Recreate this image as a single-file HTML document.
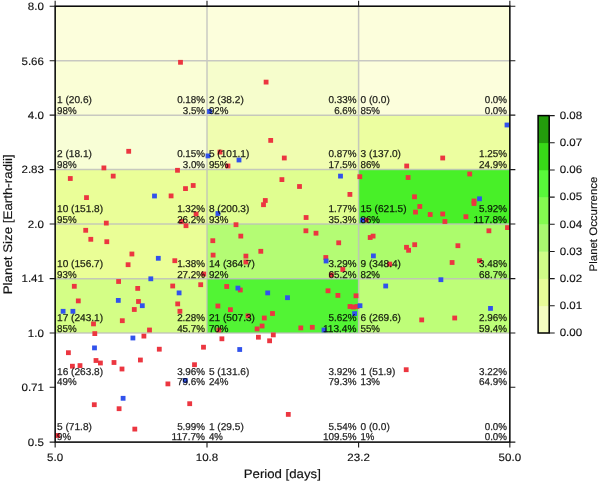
<!DOCTYPE html>
<html><head><meta charset="utf-8"><title>Planet occurrence</title>
<style>html,body{margin:0;padding:0;background:#fff;width:600px;height:482px;overflow:hidden}svg{display:block;font-family:"Liberation Sans",sans-serif;text-rendering:geometricPrecision;will-change:transform}</style></head><body>
<svg width="600" height="482" viewBox="0 0 600 482">
<defs><clipPath id="ax"><rect x="55.15" y="6.20" width="454.70" height="435.90"/></clipPath></defs>
<rect x="55.15" y="6.20" width="151.85" height="54.50" fill="#fcfedc"/>
<rect x="207.00" y="6.20" width="151.60" height="54.50" fill="#fcfedc"/>
<rect x="358.60" y="6.20" width="151.25" height="54.50" fill="#fcfedc"/>
<rect x="55.15" y="60.70" width="151.85" height="54.45" fill="#fafed6"/>
<rect x="207.00" y="60.70" width="151.60" height="54.45" fill="#f6fdcc"/>
<rect x="358.60" y="60.70" width="151.25" height="54.45" fill="#fcfedc"/>
<rect x="55.15" y="115.15" width="151.85" height="54.45" fill="#f8fed6"/>
<rect x="207.00" y="115.15" width="151.60" height="54.45" fill="#f0fdb0"/>
<rect x="358.60" y="115.15" width="151.25" height="54.45" fill="#ecfea0"/>
<rect x="55.15" y="169.60" width="151.85" height="54.35" fill="#eafe98"/>
<rect x="207.00" y="169.60" width="151.60" height="54.35" fill="#e0fe90"/>
<rect x="358.60" y="169.60" width="151.25" height="54.35" fill="#48f028"/>
<rect x="55.15" y="223.95" width="151.85" height="54.70" fill="#eafe96"/>
<rect x="207.00" y="223.95" width="151.60" height="54.70" fill="#b4fc74"/>
<rect x="358.60" y="223.95" width="151.25" height="54.70" fill="#acfc6c"/>
<rect x="55.15" y="278.65" width="151.85" height="54.40" fill="#d4fe86"/>
<rect x="207.00" y="278.65" width="151.60" height="54.40" fill="#52f434"/>
<rect x="358.60" y="278.65" width="151.25" height="54.40" fill="#befe78"/>
<path d="M55.15 60.70H509.85M55.15 115.15H509.85M55.15 169.60H509.85M55.15 223.95H509.85M55.15 278.65H509.85M55.15 333.05H509.85M207.00 6.20V333.05M358.60 6.20V333.05" stroke="#bcbcbc" stroke-width="1.50" stroke-opacity="0.80" fill="none"/>
<g clip-path="url(#ax)">
<rect x="178.10" y="59.90" width="4.8" height="4.8" fill="#ec3640"/>
<rect x="263.70" y="79.70" width="4.8" height="4.8" fill="#ec3640"/>
<rect x="126.30" y="148.90" width="4.8" height="4.8" fill="#ec3640"/>
<rect x="101.50" y="165.50" width="4.8" height="4.8" fill="#ec3640"/>
<rect x="110.80" y="173.70" width="4.8" height="4.8" fill="#ec3640"/>
<rect x="67.90" y="176.10" width="4.8" height="4.8" fill="#ec3640"/>
<rect x="175.10" y="167.90" width="4.8" height="4.8" fill="#ec3640"/>
<rect x="183.10" y="186.20" width="4.8" height="4.8" fill="#ec3640"/>
<rect x="190.80" y="183.10" width="4.8" height="4.8" fill="#ec3640"/>
<rect x="168.70" y="193.50" width="4.8" height="4.8" fill="#ec3640"/>
<rect x="84.10" y="195.20" width="4.8" height="4.8" fill="#ec3640"/>
<rect x="268.30" y="138.00" width="4.8" height="4.8" fill="#ec3640"/>
<rect x="217.60" y="149.70" width="4.8" height="4.8" fill="#ec3640"/>
<rect x="281.90" y="155.60" width="4.8" height="4.8" fill="#ec3640"/>
<rect x="225.60" y="163.60" width="4.8" height="4.8" fill="#ec3640"/>
<rect x="279.50" y="177.20" width="4.8" height="4.8" fill="#ec3640"/>
<rect x="297.10" y="184.10" width="4.8" height="4.8" fill="#ec3640"/>
<rect x="347.50" y="192.00" width="4.8" height="4.8" fill="#ec3640"/>
<rect x="262.90" y="198.10" width="4.8" height="4.8" fill="#ec3640"/>
<rect x="261.10" y="202.30" width="4.8" height="4.8" fill="#ec3640"/>
<rect x="440.30" y="155.60" width="4.8" height="4.8" fill="#ec3640"/>
<rect x="404.30" y="163.60" width="4.8" height="4.8" fill="#ec3640"/>
<rect x="357.40" y="174.30" width="4.8" height="4.8" fill="#ec3640"/>
<rect x="405.70" y="175.10" width="4.8" height="4.8" fill="#ec3640"/>
<rect x="467.30" y="171.60" width="4.8" height="4.8" fill="#ec3640"/>
<rect x="412.10" y="194.40" width="4.8" height="4.8" fill="#ec3640"/>
<rect x="471.60" y="198.60" width="4.8" height="4.8" fill="#ec3640"/>
<rect x="471.60" y="201.10" width="4.8" height="4.8" fill="#ec3640"/>
<rect x="193.70" y="211.60" width="4.8" height="4.8" fill="#ec3640"/>
<rect x="103.90" y="220.70" width="4.8" height="4.8" fill="#ec3640"/>
<rect x="179.10" y="219.10" width="4.8" height="4.8" fill="#ec3640"/>
<rect x="183.60" y="223.30" width="4.8" height="4.8" fill="#ec3640"/>
<rect x="83.30" y="227.90" width="4.8" height="4.8" fill="#ec3640"/>
<rect x="88.40" y="236.90" width="4.8" height="4.8" fill="#ec3640"/>
<rect x="104.40" y="239.30" width="4.8" height="4.8" fill="#ec3640"/>
<rect x="129.50" y="251.60" width="4.8" height="4.8" fill="#ec3640"/>
<rect x="172.40" y="258.30" width="4.8" height="4.8" fill="#ec3640"/>
<rect x="125.70" y="262.30" width="4.8" height="4.8" fill="#ec3640"/>
<rect x="201.30" y="271.60" width="4.8" height="4.8" fill="#ec3640"/>
<rect x="116.20" y="279.10" width="4.8" height="4.8" fill="#ec3640"/>
<rect x="303.70" y="215.10" width="4.8" height="4.8" fill="#ec3640"/>
<rect x="233.60" y="222.30" width="4.8" height="4.8" fill="#ec3640"/>
<rect x="303.50" y="228.40" width="4.8" height="4.8" fill="#ec3640"/>
<rect x="313.60" y="230.80" width="4.8" height="4.8" fill="#ec3640"/>
<rect x="238.40" y="233.70" width="4.8" height="4.8" fill="#ec3640"/>
<rect x="210.40" y="238.30" width="4.8" height="4.8" fill="#ec3640"/>
<rect x="336.30" y="240.40" width="4.8" height="4.8" fill="#ec3640"/>
<rect x="258.40" y="248.90" width="4.8" height="4.8" fill="#ec3640"/>
<rect x="210.70" y="252.70" width="4.8" height="4.8" fill="#ec3640"/>
<rect x="243.50" y="253.70" width="4.8" height="4.8" fill="#ec3640"/>
<rect x="323.40" y="255.10" width="4.8" height="4.8" fill="#ec3640"/>
<rect x="243.50" y="259.60" width="4.8" height="4.8" fill="#ec3640"/>
<rect x="340.40" y="267.10" width="4.8" height="4.8" fill="#ec3640"/>
<rect x="328.90" y="272.60" width="4.8" height="4.8" fill="#ec3640"/>
<rect x="417.40" y="204.10" width="4.8" height="4.8" fill="#ec3640"/>
<rect x="413.10" y="209.70" width="4.8" height="4.8" fill="#ec3640"/>
<rect x="427.80" y="212.10" width="4.8" height="4.8" fill="#ec3640"/>
<rect x="440.30" y="211.60" width="4.8" height="4.8" fill="#ec3640"/>
<rect x="463.50" y="214.30" width="4.8" height="4.8" fill="#ec3640"/>
<rect x="442.50" y="219.10" width="4.8" height="4.8" fill="#ec3640"/>
<rect x="363.80" y="217.70" width="4.8" height="4.8" fill="#ec3640"/>
<rect x="486.50" y="228.40" width="4.8" height="4.8" fill="#ec3640"/>
<rect x="505.10" y="225.20" width="4.8" height="4.8" fill="#ec3640"/>
<rect x="367.80" y="235.10" width="4.8" height="4.8" fill="#ec3640"/>
<rect x="370.70" y="233.70" width="4.8" height="4.8" fill="#ec3640"/>
<rect x="412.30" y="242.30" width="4.8" height="4.8" fill="#ec3640"/>
<rect x="404.10" y="244.90" width="4.8" height="4.8" fill="#ec3640"/>
<rect x="406.20" y="247.90" width="4.8" height="4.8" fill="#ec3640"/>
<rect x="455.50" y="243.30" width="4.8" height="4.8" fill="#ec3640"/>
<rect x="387.30" y="261.70" width="4.8" height="4.8" fill="#ec3640"/>
<rect x="449.70" y="260.10" width="4.8" height="4.8" fill="#ec3640"/>
<rect x="477.10" y="258.30" width="4.8" height="4.8" fill="#ec3640"/>
<rect x="71.90" y="283.90" width="4.8" height="4.8" fill="#ec3640"/>
<rect x="135.30" y="286.00" width="4.8" height="4.8" fill="#ec3640"/>
<rect x="170.30" y="283.60" width="4.8" height="4.8" fill="#ec3640"/>
<rect x="198.30" y="282.30" width="4.8" height="4.8" fill="#ec3640"/>
<rect x="75.90" y="298.50" width="4.8" height="4.8" fill="#ec3640"/>
<rect x="136.10" y="299.10" width="4.8" height="4.8" fill="#ec3640"/>
<rect x="175.30" y="301.50" width="4.8" height="4.8" fill="#ec3640"/>
<rect x="131.90" y="307.10" width="4.8" height="4.8" fill="#ec3640"/>
<rect x="177.50" y="308.90" width="4.8" height="4.8" fill="#ec3640"/>
<rect x="119.90" y="318.30" width="4.8" height="4.8" fill="#ec3640"/>
<rect x="91.10" y="321.50" width="4.8" height="4.8" fill="#ec3640"/>
<rect x="147.10" y="327.60" width="4.8" height="4.8" fill="#ec3640"/>
<rect x="92.40" y="331.20" width="4.8" height="4.8" fill="#ec3640"/>
<rect x="141.50" y="333.70" width="4.8" height="4.8" fill="#ec3640"/>
<rect x="156.90" y="346.80" width="4.8" height="4.8" fill="#ec3640"/>
<rect x="201.10" y="344.80" width="4.8" height="4.8" fill="#ec3640"/>
<rect x="66.00" y="350.30" width="4.8" height="4.8" fill="#ec3640"/>
<rect x="93.60" y="358.10" width="4.8" height="4.8" fill="#ec3640"/>
<rect x="138.00" y="357.60" width="4.8" height="4.8" fill="#ec3640"/>
<rect x="224.30" y="284.10" width="4.8" height="4.8" fill="#ec3640"/>
<rect x="237.90" y="287.60" width="4.8" height="4.8" fill="#ec3640"/>
<rect x="325.60" y="288.40" width="4.8" height="4.8" fill="#ec3640"/>
<rect x="335.50" y="293.00" width="4.8" height="4.8" fill="#ec3640"/>
<rect x="353.60" y="293.40" width="4.8" height="4.8" fill="#ec3640"/>
<rect x="215.50" y="303.60" width="4.8" height="4.8" fill="#ec3640"/>
<rect x="228.00" y="307.30" width="4.8" height="4.8" fill="#ec3640"/>
<rect x="347.60" y="304.10" width="4.8" height="4.8" fill="#ec3640"/>
<rect x="351.10" y="304.60" width="4.8" height="4.8" fill="#ec3640"/>
<rect x="354.60" y="304.10" width="4.8" height="4.8" fill="#ec3640"/>
<rect x="270.10" y="311.10" width="4.8" height="4.8" fill="#ec3640"/>
<rect x="261.90" y="315.60" width="4.8" height="4.8" fill="#ec3640"/>
<rect x="245.60" y="313.50" width="4.8" height="4.8" fill="#ec3640"/>
<rect x="259.70" y="323.60" width="4.8" height="4.8" fill="#ec3640"/>
<rect x="254.70" y="326.50" width="4.8" height="4.8" fill="#ec3640"/>
<rect x="298.40" y="325.50" width="4.8" height="4.8" fill="#ec3640"/>
<rect x="309.90" y="324.90" width="4.8" height="4.8" fill="#ec3640"/>
<rect x="216.50" y="327.60" width="4.8" height="4.8" fill="#ec3640"/>
<rect x="270.90" y="332.50" width="4.8" height="4.8" fill="#ec3640"/>
<rect x="219.50" y="336.40" width="4.8" height="4.8" fill="#ec3640"/>
<rect x="256.00" y="334.80" width="4.8" height="4.8" fill="#ec3640"/>
<rect x="267.20" y="338.40" width="4.8" height="4.8" fill="#ec3640"/>
<rect x="419.30" y="317.50" width="4.8" height="4.8" fill="#ec3640"/>
<rect x="452.30" y="315.60" width="4.8" height="4.8" fill="#ec3640"/>
<rect x="98.00" y="360.60" width="4.8" height="4.8" fill="#ec3640"/>
<rect x="111.60" y="360.10" width="4.8" height="4.8" fill="#ec3640"/>
<rect x="70.00" y="363.80" width="4.8" height="4.8" fill="#ec3640"/>
<rect x="77.60" y="363.20" width="4.8" height="4.8" fill="#ec3640"/>
<rect x="119.60" y="366.60" width="4.8" height="4.8" fill="#ec3640"/>
<rect x="192.10" y="362.30" width="4.8" height="4.8" fill="#ec3640"/>
<rect x="165.50" y="381.50" width="4.8" height="4.8" fill="#ec3640"/>
<rect x="91.90" y="402.30" width="4.8" height="4.8" fill="#ec3640"/>
<rect x="116.70" y="406.30" width="4.8" height="4.8" fill="#ec3640"/>
<rect x="187.30" y="401.30" width="4.8" height="4.8" fill="#ec3640"/>
<rect x="285.90" y="412.00" width="4.8" height="4.8" fill="#ec3640"/>
<rect x="403.80" y="367.30" width="4.8" height="4.8" fill="#ec3640"/>
<rect x="132.40" y="426.70" width="4.8" height="4.8" fill="#ec3640"/>
<rect x="55.10" y="433.10" width="4.8" height="4.8" fill="#ec3640"/>
<rect x="207.10" y="109.10" width="4.8" height="4.8" fill="#3152ec"/>
<rect x="504.60" y="122.60" width="4.8" height="4.8" fill="#3152ec"/>
<rect x="152.10" y="193.60" width="4.8" height="4.8" fill="#3152ec"/>
<rect x="205.60" y="153.50" width="4.8" height="4.8" fill="#3152ec"/>
<rect x="236.60" y="157.60" width="4.8" height="4.8" fill="#3152ec"/>
<rect x="338.10" y="173.70" width="4.8" height="4.8" fill="#3152ec"/>
<rect x="477.10" y="196.40" width="4.8" height="4.8" fill="#3152ec"/>
<rect x="155.90" y="255.90" width="4.8" height="4.8" fill="#3152ec"/>
<rect x="148.40" y="276.40" width="4.8" height="4.8" fill="#3152ec"/>
<rect x="215.50" y="211.10" width="4.8" height="4.8" fill="#3152ec"/>
<rect x="323.70" y="258.60" width="4.8" height="4.8" fill="#3152ec"/>
<rect x="360.10" y="217.70" width="4.8" height="4.8" fill="#3152ec"/>
<rect x="371.00" y="253.50" width="4.8" height="4.8" fill="#3152ec"/>
<rect x="438.50" y="277.30" width="4.8" height="4.8" fill="#3152ec"/>
<rect x="176.70" y="290.50" width="4.8" height="4.8" fill="#3152ec"/>
<rect x="115.90" y="298.00" width="4.8" height="4.8" fill="#3152ec"/>
<rect x="139.90" y="303.30" width="4.8" height="4.8" fill="#3152ec"/>
<rect x="60.70" y="308.90" width="4.8" height="4.8" fill="#3152ec"/>
<rect x="70.50" y="308.90" width="4.8" height="4.8" fill="#3152ec"/>
<rect x="130.50" y="335.60" width="4.8" height="4.8" fill="#3152ec"/>
<rect x="92.10" y="345.50" width="4.8" height="4.8" fill="#3152ec"/>
<rect x="235.50" y="285.70" width="4.8" height="4.8" fill="#3152ec"/>
<rect x="265.30" y="290.50" width="4.8" height="4.8" fill="#3152ec"/>
<rect x="285.10" y="295.30" width="4.8" height="4.8" fill="#3152ec"/>
<rect x="357.60" y="303.30" width="4.8" height="4.8" fill="#3152ec"/>
<rect x="352.20" y="311.20" width="4.8" height="4.8" fill="#3152ec"/>
<rect x="321.60" y="327.60" width="4.8" height="4.8" fill="#3152ec"/>
<rect x="237.30" y="347.10" width="4.8" height="4.8" fill="#3152ec"/>
<rect x="383.30" y="283.60" width="4.8" height="4.8" fill="#3152ec"/>
<rect x="488.10" y="306.00" width="4.8" height="4.8" fill="#3152ec"/>
<rect x="182.80" y="378.00" width="4.8" height="4.8" fill="#3152ec"/>
<rect x="120.70" y="395.90" width="4.8" height="4.8" fill="#3152ec"/>
</g>
<g font-size="10.0" fill="#000000" stroke="#000000" stroke-width="0.25" opacity="0.88">
<text x="57.05" y="103.15" textLength="34.86" lengthAdjust="spacingAndGlyphs">1 (20.6)</text>
<text x="57.05" y="113.80" textLength="19.56" lengthAdjust="spacingAndGlyphs">98%</text>
<text x="205.10" y="103.15" textLength="27.96" lengthAdjust="spacingAndGlyphs" text-anchor="end">0.18%</text>
<text x="205.10" y="113.80" textLength="22.36" lengthAdjust="spacingAndGlyphs" text-anchor="end">3.5%</text>
<text x="208.90" y="103.15" textLength="34.86" lengthAdjust="spacingAndGlyphs">2 (38.2)</text>
<text x="208.90" y="113.80" textLength="19.56" lengthAdjust="spacingAndGlyphs">92%</text>
<text x="356.50" y="103.15" textLength="27.96" lengthAdjust="spacingAndGlyphs" text-anchor="end">0.33%</text>
<text x="356.50" y="113.80" textLength="22.36" lengthAdjust="spacingAndGlyphs" text-anchor="end">6.6%</text>
<text x="360.50" y="103.15" textLength="29.26" lengthAdjust="spacingAndGlyphs">0 (0.0)</text>
<text x="360.50" y="113.80" textLength="19.56" lengthAdjust="spacingAndGlyphs">85%</text>
<text x="507.05" y="103.15" textLength="22.36" lengthAdjust="spacingAndGlyphs" text-anchor="end">0.0%</text>
<text x="507.05" y="113.80" textLength="22.36" lengthAdjust="spacingAndGlyphs" text-anchor="end">0.0%</text>
<text x="57.05" y="157.10" textLength="34.86" lengthAdjust="spacingAndGlyphs">2 (18.1)</text>
<text x="57.05" y="168.10" textLength="19.56" lengthAdjust="spacingAndGlyphs">98%</text>
<text x="205.10" y="157.10" textLength="27.96" lengthAdjust="spacingAndGlyphs" text-anchor="end">0.15%</text>
<text x="205.10" y="168.10" textLength="22.36" lengthAdjust="spacingAndGlyphs" text-anchor="end">3.0%</text>
<text x="208.90" y="157.10" textLength="40.46" lengthAdjust="spacingAndGlyphs">5 (101.1)</text>
<text x="208.90" y="168.10" textLength="19.56" lengthAdjust="spacingAndGlyphs">95%</text>
<text x="356.50" y="157.10" textLength="27.96" lengthAdjust="spacingAndGlyphs" text-anchor="end">0.87%</text>
<text x="356.50" y="168.10" textLength="27.96" lengthAdjust="spacingAndGlyphs" text-anchor="end">17.5%</text>
<text x="360.50" y="157.10" textLength="40.46" lengthAdjust="spacingAndGlyphs">3 (137.0)</text>
<text x="360.50" y="168.10" textLength="19.56" lengthAdjust="spacingAndGlyphs">86%</text>
<text x="507.05" y="157.10" textLength="27.96" lengthAdjust="spacingAndGlyphs" text-anchor="end">1.25%</text>
<text x="507.05" y="168.10" textLength="27.96" lengthAdjust="spacingAndGlyphs" text-anchor="end">24.9%</text>
<text x="57.05" y="211.75" textLength="46.05" lengthAdjust="spacingAndGlyphs">10 (151.8)</text>
<text x="57.05" y="222.65" textLength="19.56" lengthAdjust="spacingAndGlyphs">95%</text>
<text x="205.10" y="211.75" textLength="27.96" lengthAdjust="spacingAndGlyphs" text-anchor="end">1.32%</text>
<text x="205.10" y="222.65" textLength="27.96" lengthAdjust="spacingAndGlyphs" text-anchor="end">26.2%</text>
<text x="208.90" y="211.75" textLength="40.46" lengthAdjust="spacingAndGlyphs">8 (200.3)</text>
<text x="208.90" y="222.65" textLength="19.56" lengthAdjust="spacingAndGlyphs">93%</text>
<text x="356.50" y="211.75" textLength="27.96" lengthAdjust="spacingAndGlyphs" text-anchor="end">1.77%</text>
<text x="356.50" y="222.65" textLength="27.96" lengthAdjust="spacingAndGlyphs" text-anchor="end">35.3%</text>
<text x="360.50" y="211.75" textLength="46.05" lengthAdjust="spacingAndGlyphs">15 (621.5)</text>
<text x="360.50" y="222.65" textLength="19.56" lengthAdjust="spacingAndGlyphs">86%</text>
<text x="507.05" y="211.75" textLength="27.96" lengthAdjust="spacingAndGlyphs" text-anchor="end">5.92%</text>
<text x="507.05" y="222.65" textLength="33.55" lengthAdjust="spacingAndGlyphs" text-anchor="end">117.8%</text>
<text x="57.05" y="266.85" textLength="46.05" lengthAdjust="spacingAndGlyphs">10 (156.7)</text>
<text x="57.05" y="277.55" textLength="19.56" lengthAdjust="spacingAndGlyphs">93%</text>
<text x="205.10" y="266.85" textLength="27.96" lengthAdjust="spacingAndGlyphs" text-anchor="end">1.38%</text>
<text x="205.10" y="277.55" textLength="27.96" lengthAdjust="spacingAndGlyphs" text-anchor="end">27.2%</text>
<text x="208.90" y="266.85" textLength="46.05" lengthAdjust="spacingAndGlyphs">14 (364.7)</text>
<text x="208.90" y="277.55" textLength="19.56" lengthAdjust="spacingAndGlyphs">92%</text>
<text x="356.50" y="266.85" textLength="27.96" lengthAdjust="spacingAndGlyphs" text-anchor="end">3.29%</text>
<text x="356.50" y="277.55" textLength="27.96" lengthAdjust="spacingAndGlyphs" text-anchor="end">65.2%</text>
<text x="360.50" y="266.85" textLength="40.46" lengthAdjust="spacingAndGlyphs">9 (348.4)</text>
<text x="360.50" y="277.55" textLength="19.56" lengthAdjust="spacingAndGlyphs">82%</text>
<text x="507.05" y="266.85" textLength="27.96" lengthAdjust="spacingAndGlyphs" text-anchor="end">3.48%</text>
<text x="507.05" y="277.55" textLength="27.96" lengthAdjust="spacingAndGlyphs" text-anchor="end">68.7%</text>
<text x="57.05" y="320.55" textLength="46.05" lengthAdjust="spacingAndGlyphs">17 (243.1)</text>
<text x="57.05" y="331.65" textLength="19.56" lengthAdjust="spacingAndGlyphs">85%</text>
<text x="205.10" y="320.55" textLength="27.96" lengthAdjust="spacingAndGlyphs" text-anchor="end">2.28%</text>
<text x="205.10" y="331.65" textLength="27.96" lengthAdjust="spacingAndGlyphs" text-anchor="end">45.7%</text>
<text x="208.90" y="320.55" textLength="46.05" lengthAdjust="spacingAndGlyphs">21 (507.3)</text>
<text x="208.90" y="331.65" textLength="19.56" lengthAdjust="spacingAndGlyphs">70%</text>
<text x="356.50" y="320.55" textLength="27.96" lengthAdjust="spacingAndGlyphs" text-anchor="end">5.62%</text>
<text x="356.50" y="331.65" textLength="33.55" lengthAdjust="spacingAndGlyphs" text-anchor="end">113.4%</text>
<text x="360.50" y="320.55" textLength="40.46" lengthAdjust="spacingAndGlyphs">6 (269.6)</text>
<text x="360.50" y="331.65" textLength="19.56" lengthAdjust="spacingAndGlyphs">55%</text>
<text x="507.05" y="320.55" textLength="27.96" lengthAdjust="spacingAndGlyphs" text-anchor="end">2.96%</text>
<text x="507.05" y="331.65" textLength="27.96" lengthAdjust="spacingAndGlyphs" text-anchor="end">59.4%</text>
<text x="57.05" y="374.50" textLength="46.05" lengthAdjust="spacingAndGlyphs">16 (263.8)</text>
<text x="57.05" y="385.40" textLength="19.56" lengthAdjust="spacingAndGlyphs">49%</text>
<text x="205.10" y="374.50" textLength="27.96" lengthAdjust="spacingAndGlyphs" text-anchor="end">3.96%</text>
<text x="205.10" y="385.40" textLength="27.96" lengthAdjust="spacingAndGlyphs" text-anchor="end">79.6%</text>
<text x="208.90" y="374.50" textLength="40.46" lengthAdjust="spacingAndGlyphs">5 (131.6)</text>
<text x="208.90" y="385.40" textLength="19.56" lengthAdjust="spacingAndGlyphs">24%</text>
<text x="356.50" y="374.50" textLength="27.96" lengthAdjust="spacingAndGlyphs" text-anchor="end">3.92%</text>
<text x="356.50" y="385.40" textLength="27.96" lengthAdjust="spacingAndGlyphs" text-anchor="end">79.3%</text>
<text x="360.50" y="374.50" textLength="34.86" lengthAdjust="spacingAndGlyphs">1 (51.9)</text>
<text x="360.50" y="385.40" textLength="19.56" lengthAdjust="spacingAndGlyphs">13%</text>
<text x="507.05" y="374.50" textLength="27.96" lengthAdjust="spacingAndGlyphs" text-anchor="end">3.22%</text>
<text x="507.05" y="385.40" textLength="27.96" lengthAdjust="spacingAndGlyphs" text-anchor="end">64.9%</text>
<text x="57.05" y="429.60" textLength="34.86" lengthAdjust="spacingAndGlyphs">5 (71.8)</text>
<text x="57.05" y="439.80" textLength="13.96" lengthAdjust="spacingAndGlyphs">9%</text>
<text x="205.10" y="429.60" textLength="27.96" lengthAdjust="spacingAndGlyphs" text-anchor="end">5.99%</text>
<text x="205.10" y="439.80" textLength="33.55" lengthAdjust="spacingAndGlyphs" text-anchor="end">117.7%</text>
<text x="208.90" y="429.60" textLength="34.86" lengthAdjust="spacingAndGlyphs">1 (29.5)</text>
<text x="208.90" y="439.80" textLength="13.96" lengthAdjust="spacingAndGlyphs">4%</text>
<text x="356.50" y="429.60" textLength="27.96" lengthAdjust="spacingAndGlyphs" text-anchor="end">5.54%</text>
<text x="356.50" y="439.80" textLength="33.55" lengthAdjust="spacingAndGlyphs" text-anchor="end">109.5%</text>
<text x="360.50" y="429.60" textLength="29.26" lengthAdjust="spacingAndGlyphs">0 (0.0)</text>
<text x="360.50" y="439.80" textLength="13.96" lengthAdjust="spacingAndGlyphs">1%</text>
<text x="507.05" y="429.60" textLength="22.36" lengthAdjust="spacingAndGlyphs" text-anchor="end">0.0%</text>
<text x="507.05" y="439.80" textLength="22.36" lengthAdjust="spacingAndGlyphs" text-anchor="end">0.0%</text>
</g>
<rect x="55.15" y="6.20" width="454.70" height="435.90" fill="none" stroke="#000" stroke-width="1.5"/>
<path d="M49.65 6.20H55.15M509.85 6.20H515.35M49.65 60.70H55.15M509.85 60.70H515.35M49.65 115.15H55.15M509.85 115.15H515.35M49.65 169.60H55.15M509.85 169.60H515.35M49.65 223.95H55.15M509.85 223.95H515.35M49.65 278.65H55.15M509.85 278.65H515.35M49.65 333.05H55.15M509.85 333.05H515.35M49.65 387.30H55.15M509.85 387.30H515.35M49.65 442.10H55.15M509.85 442.10H515.35M55.15 442.10V447.60M55.15 0.70V6.20M207.00 442.10V447.60M207.00 0.70V6.20M358.60 442.10V447.60M358.60 0.70V6.20M509.85 442.10V447.60M509.85 0.70V6.20" stroke="#1a1a1a" stroke-width="1.1" fill="none"/>
<g font-size="10.7" fill="#111111" stroke="#111111" stroke-width="0.15">
<text x="43.95" y="10.00" textLength="16.06" lengthAdjust="spacingAndGlyphs" text-anchor="end">8.0</text>
<text x="43.95" y="64.50" textLength="22.49" lengthAdjust="spacingAndGlyphs" text-anchor="end">5.66</text>
<text x="43.95" y="118.95" textLength="16.06" lengthAdjust="spacingAndGlyphs" text-anchor="end">4.0</text>
<text x="43.95" y="173.40" textLength="22.49" lengthAdjust="spacingAndGlyphs" text-anchor="end">2.83</text>
<text x="43.95" y="227.75" textLength="16.06" lengthAdjust="spacingAndGlyphs" text-anchor="end">2.0</text>
<text x="43.95" y="282.45" textLength="22.49" lengthAdjust="spacingAndGlyphs" text-anchor="end">1.41</text>
<text x="43.95" y="336.85" textLength="16.06" lengthAdjust="spacingAndGlyphs" text-anchor="end">1.0</text>
<text x="43.95" y="391.10" textLength="22.49" lengthAdjust="spacingAndGlyphs" text-anchor="end">0.71</text>
<text x="43.95" y="445.90" textLength="16.06" lengthAdjust="spacingAndGlyphs" text-anchor="end">0.5</text>
<text x="55.15" y="460.90" textLength="16.06" lengthAdjust="spacingAndGlyphs" text-anchor="middle">5.0</text>
<text x="207.00" y="460.90" textLength="22.49" lengthAdjust="spacingAndGlyphs" text-anchor="middle">10.8</text>
<text x="358.60" y="460.90" textLength="22.49" lengthAdjust="spacingAndGlyphs" text-anchor="middle">23.2</text>
<text x="509.85" y="460.90" textLength="22.49" lengthAdjust="spacingAndGlyphs" text-anchor="middle">50.0</text>
</g>
<g font-size="12.40" fill="#111111" stroke="#111111" stroke-width="0.15">
<text x="282.30" y="478.40" textLength="77.03" lengthAdjust="spacingAndGlyphs" text-anchor="middle">Period [days]</text>
<text transform="translate(11.80 224.30) rotate(-90)" textLength="139.95" lengthAdjust="spacingAndGlyphs" text-anchor="middle">Planet Size [Earth-radii]</text>
</g>
<rect x="538.10" y="305.82" width="11.10" height="27.48" fill="#f4fcc0"/>
<rect x="538.10" y="278.65" width="11.10" height="27.48" fill="#e8fc98"/>
<rect x="538.10" y="251.47" width="11.10" height="27.48" fill="#d0fc88"/>
<rect x="538.10" y="224.30" width="11.10" height="27.48" fill="#a8f870"/>
<rect x="538.10" y="197.12" width="11.10" height="27.48" fill="#84fa50"/>
<rect x="538.10" y="169.95" width="11.10" height="27.48" fill="#58f83a"/>
<rect x="538.10" y="142.78" width="11.10" height="27.48" fill="#38d818"/>
<rect x="538.10" y="115.60" width="11.10" height="27.48" fill="#239b0c"/>
<rect x="538.10" y="115.60" width="11.10" height="217.40" fill="none" stroke="#000" stroke-width="1.5"/>
<path d="M549.20 333.00H554.70M549.20 305.82H554.70M549.20 278.65H554.70M549.20 251.47H554.70M549.20 224.30H554.70M549.20 197.12H554.70M549.20 169.95H554.70M549.20 142.78H554.70M549.20 115.60H554.70" stroke="#1a1a1a" stroke-width="1.1" fill="none"/>
<g font-size="10.7" fill="#111111" stroke="#111111" stroke-width="0.15">
<text x="559.70" y="336.30" textLength="22.49" lengthAdjust="spacingAndGlyphs" text-anchor="start">0.00</text>
<text x="559.70" y="309.12" textLength="22.49" lengthAdjust="spacingAndGlyphs" text-anchor="start">0.01</text>
<text x="559.70" y="281.95" textLength="22.49" lengthAdjust="spacingAndGlyphs" text-anchor="start">0.02</text>
<text x="559.70" y="254.78" textLength="22.49" lengthAdjust="spacingAndGlyphs" text-anchor="start">0.03</text>
<text x="559.70" y="227.60" textLength="22.49" lengthAdjust="spacingAndGlyphs" text-anchor="start">0.04</text>
<text x="559.70" y="200.43" textLength="22.49" lengthAdjust="spacingAndGlyphs" text-anchor="start">0.05</text>
<text x="559.70" y="173.25" textLength="22.49" lengthAdjust="spacingAndGlyphs" text-anchor="start">0.06</text>
<text x="559.70" y="146.08" textLength="22.49" lengthAdjust="spacingAndGlyphs" text-anchor="start">0.07</text>
<text x="559.70" y="118.90" textLength="22.49" lengthAdjust="spacingAndGlyphs" text-anchor="start">0.08</text>
</g>
<text transform="translate(596.80 224.00) rotate(-90)" font-size="10.90" fill="#111111" textLength="94.86" lengthAdjust="spacingAndGlyphs" text-anchor="middle" stroke="#111111" stroke-width="0.15">Planet Occurrence</text>
</svg></body></html>
